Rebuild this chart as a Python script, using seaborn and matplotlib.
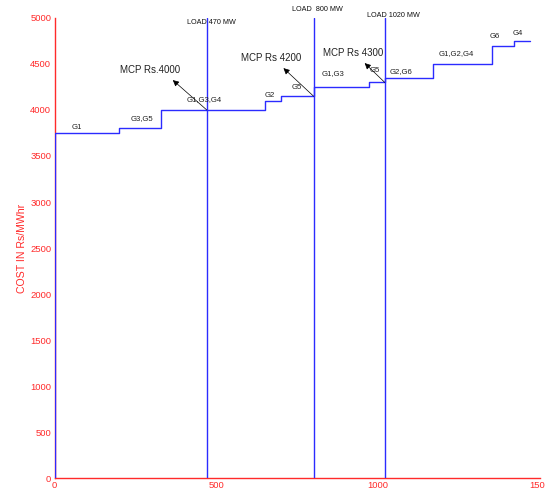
import matplotlib
matplotlib.use("Agg")
import matplotlib.pyplot as plt
import seaborn as sns
import pandas as pd

# Supply curve: price block start (MW) and block price (Rs/MWhr)
block_start = [0, 200, 330, 650, 700, 800, 970, 1020, 1170, 1350, 1420]
block_price = [3750, 3800, 4000, 4100, 4150, 4250, 4300, 4350, 4500, 4700, 4750]
curve_end = 1470

# Generator groups labelling each block
block_labels = ["G1", "G3,G5", "G1,G3,G4", "G2", "G5", "G1,G3", "G5",
                "G2,G6", "G1,G2,G4", "G6", "G4"]
label_pos = [(68, 3815), (271, 3910), (462, 4116), (664, 4163), (747, 4242),
             (860, 4391), (988, 4427), (1071, 4416), (1241, 4609),
             (1361, 4797), (1431, 4833)]

# Load levels and the market clearing prices they set
loads = [470, 800, 1020]
load_text = ["LOAD 470 MW", "LOAD  800 MW", "LOAD 1020 MW"]
load_text_pos = [(483, 4950), (813, 5095), (1048, 5030)]
mcp = [4000, 4150, 4300]
mcp_text = ["MCP Rs.4000", "MCP Rs 4200", "MCP Rs 4300"]
mcp_text_pos = [(295, 4435), (670, 4565), (921, 4620)]

sns.set_style("white")
plt.rcParams["font.family"] = ["Liberation Sans", "DejaVu Sans"]

RED = "#ff2a2a"
BLUE = "#2b2bff"

xs = [0] + block_start + [curve_end]
ys = [0] + block_price + [block_price[-1]]
curve = pd.DataFrame({"mw": xs, "cost": ys})

fig = plt.figure(figsize=(5.45, 4.93), dpi=100)
ax = fig.add_axes([0.1004, 0.0304, 0.8905, 0.9331])

sns.lineplot(data=curve, x="mw", y="cost", drawstyle="steps-post",
             estimator=None, sort=False, color=BLUE, lw=1.0, ax=ax,
             zorder=3)

for ld in loads:
    ax.plot([ld, ld], [0, 5000], color=BLUE, lw=1.0, zorder=3)

for txt, (tx, ty) in zip(block_labels, label_pos):
    ax.text(tx, ty, txt, fontsize=5.6, ha="center", va="center",
            color="#222222", zorder=4)

for txt, (tx, ty) in zip(load_text, load_text_pos):
    ax.text(tx, ty, txt, fontsize=5.2, ha="center", va="center",
            color="#111111", zorder=4, clip_on=False)

for ld, price, txt, (tx, ty) in zip(loads, mcp, mcp_text, mcp_text_pos):
    ax.annotate("", xy=(tx + 70 if ld == 470 else tx + 37, ty - 110),
                xytext=(ld, price),
                arrowprops=dict(arrowstyle="-|>", color="black", lw=0.5,
                                mutation_scale=9, shrinkA=0, shrinkB=0),
                zorder=4)
    ax.text(tx, ty, txt, fontsize=7, ha="center", va="center",
            color="#222222", zorder=4)

ax.set_xlim(0, 1500)
ax.set_ylim(0, 5000)
ax.set_xticks([0, 500, 1000, 1500])
ax.set_yticks(list(range(0, 5001, 500)))
ax.set_xlabel("")
ax.set_ylabel("COST IN Rs/MWhr", color=RED, fontsize=7.6, labelpad=2)

for side in ["top", "right"]:
    ax.spines[side].set_visible(False)
for side in ["left", "bottom"]:
    ax.spines[side].set_color(RED)
    ax.spines[side].set_linewidth(1.0)

ax.tick_params(axis="both", direction="in", length=4, width=0.8,
               colors=RED, labelsize=6.8, labelcolor=RED)
ax.tick_params(axis="y", pad=2.5)
ax.tick_params(axis="x", pad=1.8)
ax.grid(False)

fig.savefig("out.png", dpi=100)
